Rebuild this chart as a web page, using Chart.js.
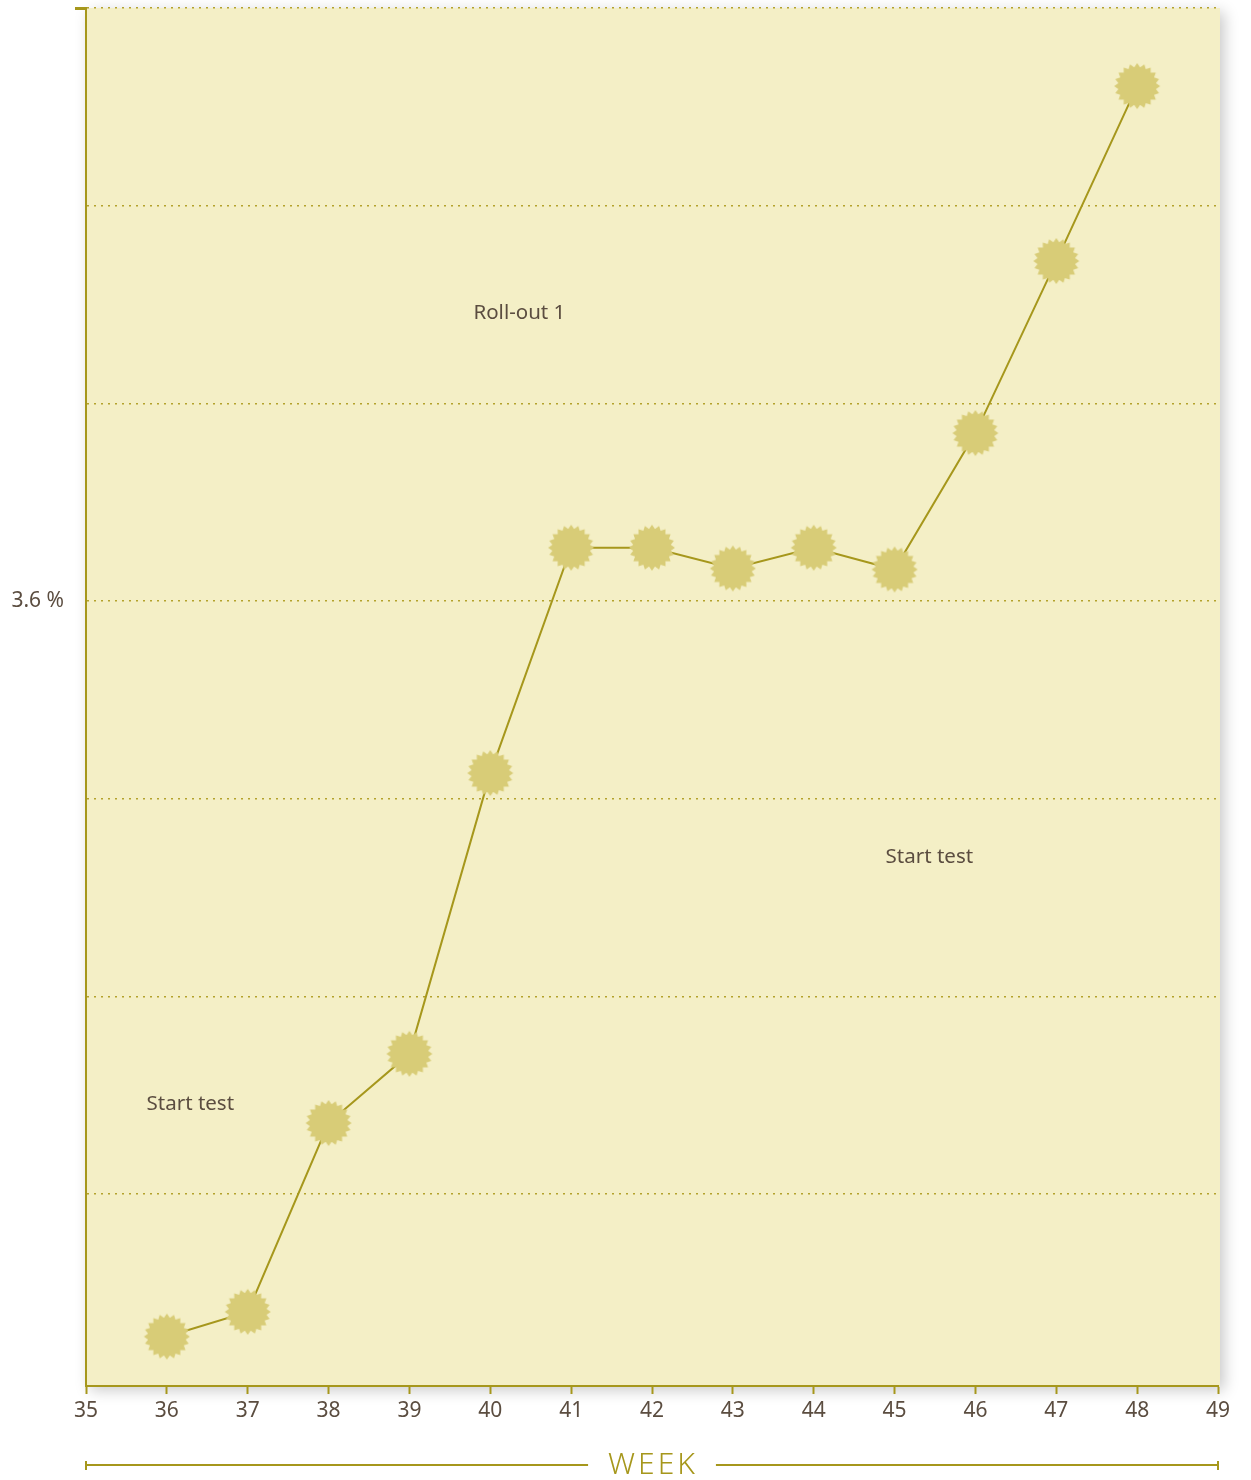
<!DOCTYPE html>
<html>
<head>
<meta charset="utf-8">
<script src="https://cdn.jsdelivr.net/npm/chart.js@4"></script>
<style>
  body { margin: 0; background: #ffffff; }
  canvas { display: block; }
</style>
</head>
<body>
<canvas id="chart" width="1251" height="1480"></canvas>
<script>
// data
var weeks = [36, 37, 38, 39, 40, 41, 42, 43, 44, 45, 46, 47, 48];
var rate = [2.856, 2.881, 3.072, 3.142, 3.426, 3.654, 3.654, 3.633, 3.654, 3.632, 3.770, 3.944, 4.121];
var yTicks = [3.0, 3.2, 3.4, 3.6, 3.8, 4.0, 4.2];
var yLabelled = [3.6];
var notes = [
  { text: 'Roll-out 1', x: 40.36, y: 3.891 },
  { text: 'Start test', x: 45.43, y: 3.341 },
  { text: 'Start test', x: 36.29, y: 3.091 }
];
var axisTitle = 'WEEK';

var olive = '#a6971c';
var textCol = '#5b4d40';
var panel = '#f4efc6';
var font = '"Noto Sans", "Open Sans", sans-serif';

// starburst marker
function burst() {
  var c = document.createElement('canvas');
  c.width = 52; c.height = 52;
  var g = c.getContext('2d');
  var n = 20, ro = 23, ri = 19;
  g.beginPath();
  for (var i = 0; i < n * 2; i++) {
    var r = i % 2 === 0 ? ro : ri;
    var a = Math.PI * i / n - Math.PI / 2;
    var px = 26 + r * Math.cos(a), py = 26 + r * Math.sin(a);
    if (i === 0) g.moveTo(px, py); else g.lineTo(px, py);
  }
  g.closePath();
  g.fillStyle = '#d8cc77';
  g.fill();
  return c;
}
var star = burst();

var points = [];
for (var i = 0; i < weeks.length; i++) {
  points.push({ x: weeks[i], y: rate[i] });
}

var decor = {
  id: 'decor',
  beforeDraw: function(chart) {
    var ctx = chart.ctx, a = chart.chartArea;
    ctx.save();
    ctx.shadowColor = 'rgba(0,0,0,0.22)';
    ctx.shadowBlur = 14;
    ctx.shadowOffsetX = 4;
    ctx.shadowOffsetY = 4;
    ctx.fillStyle = panel;
    ctx.fillRect(a.left, a.top, a.right - a.left + 2, a.bottom - a.top);
    ctx.restore();
  },
  afterDraw: function(chart) {
    var ctx = chart.ctx, a = chart.chartArea;
    var xs = chart.scales.x, ys = chart.scales.y;
    ctx.save();
    // top-left tick
    ctx.fillStyle = olive;
    ctx.fillRect(a.left - 11, a.top - 1, 12, 3);
    // notes
    ctx.fillStyle = textCol;
    ctx.font = '20.5px ' + font;
    ctx.textAlign = 'center';
    ctx.textBaseline = 'middle';
    notes.forEach(function(n) {
      ctx.fillText(n.text, xs.getPixelForValue(n.x), ys.getPixelForValue(n.y));
    });
    // axis title with rules
    var y = 1465;
    var cx = (xs.left + xs.right) / 2;
    ctx.font = '300 30px ' + font;
    ctx.fillStyle = olive;
    if ('letterSpacing' in ctx) ctx.letterSpacing = '3px';
    var w = ctx.measureText(axisTitle).width;
    ctx.fillText(axisTitle, cx + 1, y);
    ctx.strokeStyle = olive;
    ctx.lineWidth = 2;
    ctx.beginPath();
    ctx.moveTo(xs.left, y); ctx.lineTo(cx - w / 2 - 19, y);
    ctx.moveTo(cx + w / 2 + 19, y); ctx.lineTo(xs.right, y);
    ctx.moveTo(xs.left, y - 4); ctx.lineTo(xs.left, y + 5);
    ctx.moveTo(xs.right, y - 4); ctx.lineTo(xs.right, y + 5);
    ctx.stroke();
    ctx.restore();
  }
};

new Chart(document.getElementById('chart'), {
  type: 'line',
  data: {
    datasets: [{
      data: points,
      borderColor: olive,
      borderWidth: 2,
      tension: 0,
      pointStyle: star,
      pointRadius: 23,
      pointHoverRadius: 23
    }]
  },
  options: {
    responsive: false,
    devicePixelRatio: 1,
    animation: false,
    layout: { autoPadding: false, padding: { top: 8, right: 33, left: 0, bottom: 0 } },
    plugins: { legend: { display: false }, tooltip: { enabled: false } },
    scales: {
      x: {
        type: 'linear',
        min: 35,
        max: 49,
        afterFit: function(s) {
          s.height = 94;
          s.paddingLeft = 0; s.paddingRight = 0;
        },
        ticks: { stepSize: 1, color: textCol, font: { size: 21, family: font }, padding: 4 },
        grid: { drawOnChartArea: false, drawTicks: true, tickLength: 8, tickWidth: 2, color: olive },
        border: { color: olive, width: 2 }
      },
      y: {
        min: 2.806,
        max: 4.2,
        afterFit: function(s) {
          s.width = 86;
          s.paddingTop = 0; s.paddingBottom = 0;
        },
        afterBuildTicks: function(s) {
          s.ticks = yTicks.map(function(v) { return { value: v }; });
        },
        ticks: {
          color: textCol,
          font: { size: 21, family: font },
          padding: 22,
          callback: function(v) {
            return yLabelled.indexOf(Math.round(v * 10) / 10) >= 0 ? v.toFixed(1) + ' %' : '';
          }
        },
        grid: { drawTicks: false, color: '#b3a22c', lineWidth: 1.5 },
        border: { color: olive, width: 2, dash: [2, 5] }
      }
    }
  },
  plugins: [decor]
});
</script>
</body>
</html>
